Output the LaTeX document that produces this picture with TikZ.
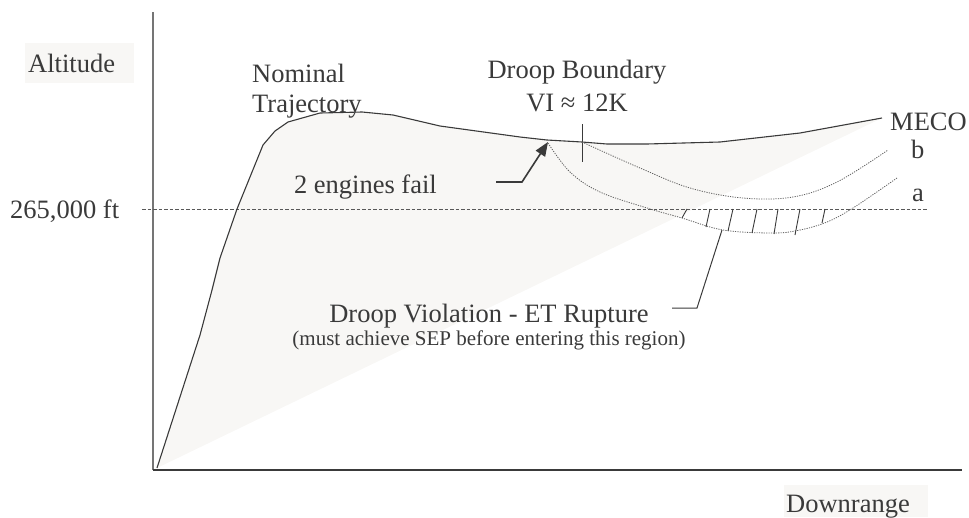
\documentclass[tikz,border=0pt]{standalone}
\usepackage{fontspec}
\setmainfont{Liberation Serif}
\usetikzlibrary{arrows.meta}
\definecolor{paleshade}{HTML}{F8F7F5}
\definecolor{ink}{HTML}{3A3A3A}
\tikzset{
  lbl/.style={inner sep=0pt, text=ink, font=\fontsize{26.5}{30}\selectfont},
  sublbl/.style={inner sep=0pt, text=ink, font=\fontsize{21}{24}\selectfont},
  traj/.style={draw=ink, line width=1.1pt, line join=round},
  axisline/.style={line width=1.4pt},
  dotcurve/.style={draw=ink!80, line width=0.8pt, dash pattern=on 1.2pt off 1.2pt},
  refline/.style={draw=ink!85, line width=1pt, dash pattern=on 3.5pt off 2pt},
  hatch/.style={draw=ink, line width=0.9pt},
  leader/.style={draw=ink, line width=1pt},
  bgfill/.style={fill=paleshade, draw=none},
}
\begin{document}
\begin{tikzpicture}[x=1pt,y=-1pt]
\useasboundingbox (0,0) rectangle (969,517);
% shaded region
\path[bgfill] (157,468) -- (200,335) -- (212,290) -- (220,258) -- (237,209) -- (263,145) -- (275,131) -- (288,122) -- (320,113) -- (362,112) -- (393,115) -- (440,126) -- (520,137) -- (547,140) -- (582,142) -- (607,144) -- (647,144) -- (720,142) -- (800,133) -- (882,118) -- cycle;
% label backgrounds
\path[bgfill] (25,43) rectangle (134,83);
\path[bgfill] (784,485) rectangle (928,517);
% axes
\draw[axisline, draw=ink!70] (153,12) -- (153,470);
\draw[axisline, draw=ink] (153,470) -- (962,470);
% reference line
\draw[refline] (142,209) -- (928,209);
% trajectory
\draw[traj] (157,468) -- (200,335) -- (212,290) -- (220,258) -- (237,209) -- (263,145) -- (275,131) -- (288,122) -- (320,113) -- (362,112) -- (393,115) -- (440,126) -- (520,137) -- (547,140) -- (582,142) -- (607,144) -- (647,144) -- (720,142) -- (800,133) -- (882,118);
% droop boundary tick
\draw[leader] (582,124) -- (582,162);
% curve b
\draw[dotcurve] plot[smooth, tension=0.6] coordinates {(582,142) (640,168) (690,188) (743,198) (793,197) (837,182) (888,150)};
% curve a
\draw[dotcurve] plot[smooth, tension=0.6] coordinates {(548,143) (570,172) (600,192) (647,208) (682,218) (723,230) (773,233) (800,230) (827,222) (853,208) (897,178)};
% hatches
\foreach \xt/\xb/\yb in {687/682/218, 710/706/227, 733/728/231, 757/752/233, 778/774/234, 800/795/235, 825/822/223}
  \draw[hatch] (\xt,209) -- (\xb,\yb);
% texts
\node[lbl, anchor=base west] (alt) at (28,72) {Altitude};
\node[lbl, anchor=base west] (nom1) at (252,82) {Nominal};
\node[lbl, anchor=base west] (nom2) at (252,112) {Trajectory};
\node[lbl, anchor=base west] (ft) at (10,218) {265,000 ft};
\node[lbl, anchor=base] (db1) at (577,78) {Droop Boundary};
\node[lbl, anchor=base] (db2) at (577,111) {VI ≈ 12K};
\node[lbl, anchor=base east] (fail) at (437,193) {2 engines fail};
\node[lbl, anchor=base west] (meco) at (890,130) {MECO};
\node[lbl, anchor=base west] (lb) at (911,158) {b};
\node[lbl, anchor=base west] (la) at (912,201) {a};
\node[lbl, anchor=base] (dv) at (489,322) {Droop Violation - ET Rupture};
\node[sublbl, anchor=base] (dvs) at (489,345) {(must achieve SEP before entering this region)};
\node[lbl, anchor=base west] (dr) at (786,512) {Downrange};
% 2 engines fail arrow
\coordinate (a0) at (496,182);
\coordinate (a1) at (522,182);
\coordinate (atip) at (548,142);
\draw[leader, line width=1.6pt, -{Triangle[length=14pt, width=11pt]}] (a0) -- (a1) -- (atip);
% droop violation leader
\coordinate (v0) at (722,230);
\coordinate (v1) at (697,308);
\coordinate (v2) at (672,308);
\draw[leader] (v0) -- (v1) -- (v2);
\end{tikzpicture}
\end{document}
